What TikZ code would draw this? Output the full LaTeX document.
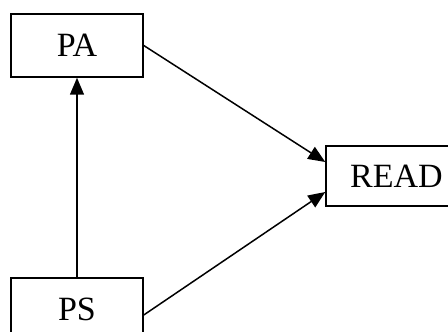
\documentclass[tikz,border=0pt]{standalone}
\usepackage{fontspec}
\setmainfont{Liberation Serif}
\usetikzlibrary{arrows.meta,calc}
\begin{document}
\begin{tikzpicture}[x=0.5pt,y=-0.5pt,
  box/.style={draw,line width=0.75pt,inner sep=0pt,font=\fontsize{17}{20}\selectfont},
  link/.style={line width=0.75pt,-{Triangle[length=8.5pt,width=7pt]}}]
  \useasboundingbox (0,0) rectangle (448,331);
  \clip (0,0) rectangle (448,331);
  \node[box,minimum width=66pt,minimum height=31.5pt] (PA) at (77,45.5) {PA};
  \node[box,minimum width=66pt,minimum height=31.5pt] (PS) at (77,309.5) {PS};
  \node[box,minimum width=70.5pt,minimum height=30pt] (READ) at (396.5,176) {READ};
  \draw[link] (PS.north) -- (PA.south);
  \draw[link] (PA.east) -- ($(READ.west)+(0,-14)$);
  \draw[link] ($(PS.east)+(0,5.5)$) -- ($(READ.west)+(0,16)$);
\end{tikzpicture}
\end{document}
